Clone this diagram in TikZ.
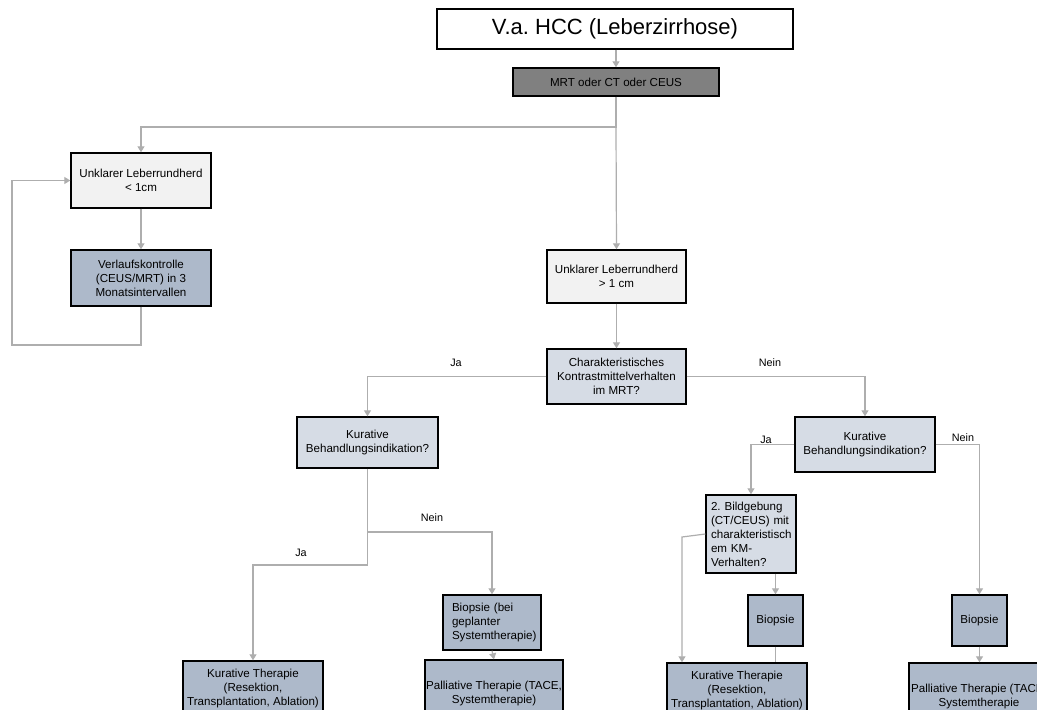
\documentclass[tikz,border=0pt]{standalone}
\usepackage{fontspec}
\setmainfont{Liberation Sans}
\usetikzlibrary{arrows.meta}
\frenchspacing
\definecolor{cline}{HTML}{AEAEAE}
\definecolor{cdark}{HTML}{808080}
\definecolor{clight}{HTML}{F2F2F2}
\definecolor{cblue}{HTML}{ADB9CA}
\definecolor{cpale}{HTML}{D6DCE5}
\begin{document}
\begin{tikzpicture}[x=1pt,y=-1pt,
  box/.style={draw=black, line width=1.4pt, inner sep=0pt, align=center,
    font=\fontsize{11.6}{14}\selectfont},
  lbox/.style={box, align=left},
  conn/.style={draw=cline, line width=1.2pt},
  arr/.style={conn, -{Triangle[width=7pt,length=6pt]}},
  lab/.style={font=\fontsize{10.8}{13}\selectfont, inner sep=0pt}]
\useasboundingbox (0,0) rectangle (1037,710);
\clip (0,0) rectangle (1037,710);
\fill[white] (0,0) rectangle (1037,710);

% nodes
\node[box, fill=white, minimum width=356pt, minimum height=40pt,
  font=\fontsize{22}{26}\selectfont] (top) at (615,29) {V.a. HCC (Leberzirrhose)};
\node[box, fill=cdark, minimum width=206pt, minimum height=28pt] (mrt) at (616,82) {MRT oder CT oder CEUS};
\node[box, fill=clight, minimum width=140pt, minimum height=55pt] (small) at (141,180.5) {Unklarer Leberrundherd\\< 1cm};
\node[box, fill=cblue, minimum width=140pt, minimum height=56pt] (verlauf) at (141,278) {Verlaufskontrolle\\(CEUS/MRT) in 3\\Monatsintervallen};
\node[box, fill=clight, minimum width=139pt, minimum height=53pt] (big) at (616.5,276.5) {Unklarer Leberrundherd\\> 1 cm};
\node[box, fill=cpale, minimum width=139pt, minimum height=55pt] (char) at (616.5,376.5) {Charakteristisches\\Kontrastmittelverhalten\\im MRT?};
\node[box, fill=cpale, minimum width=141pt, minimum height=51pt] (kurL) at (367.5,442.5) {Kurative\\Behandlungsindikation?};
\node[box, fill=cpale, minimum width=140pt, minimum height=55pt] (kurR) at (865,444.5) {Kurative\\Behandlungsindikation?};
\node[lbox, fill=cpale, text width=80pt, inner xsep=5pt, minimum height=78pt] (bild) at (751,534) {2. Bildgebung\\(CT/CEUS) mit\\charakteristisch\\em KM-\\Verhalten?};
\node[lbox, fill=cblue, text width=80pt, inner xsep=9pt, minimum height=55pt] (biopL) at (492,622.5) {Biopsie (bei\\geplanter\\Systemtherapie)};
\node[box, fill=cblue, minimum width=55pt, minimum height=51pt] (biopM) at (775.5,620.5) {Biopsie};
\node[box, fill=cblue, minimum width=55pt, minimum height=51pt] (biopR) at (979.5,620.5) {Biopsie};
\node[box, fill=cblue, minimum width=140pt, minimum height=55pt] (ktL) at (253,688.5) {Kurative Therapie\\(Resektion,\\Transplantation, Ablation)};
\node[box, fill=cblue, minimum width=138pt, minimum height=67pt] (palL) at (494,693.5) {Palliative Therapie (TACE,\\Systemtherapie)};
\node[box, fill=cblue, minimum width=140pt, minimum height=55pt] (ktR) at (737,690.5) {Kurative Therapie\\(Resektion,\\Transplantation, Ablation)};
\node[box, fill=cblue, minimum width=140pt, minimum height=67pt] (palR) at (979,696.5) {Palliative Therapie (TACE,\\Systemtherapie};

% helper coordinates
\coordinate (j1) at (616,127);
\coordinate (l1) at (141,345);
\coordinate (l2) at (12,345);
\coordinate (l3) at (12,180.5);
\coordinate (jja) at (367.5,565);
\coordinate (jn) at (367.5,532);
\coordinate (kx) at (682,537);

% connectors
\draw[arr] (top.south -| mrt.north) -- (mrt.north);
\draw[arr] (mrt.south) -- (j1) -| (small.north);
\draw[arr] (j1) -- (big.north);
\draw[arr] (small.south) -- (verlauf.north);
\draw[arr] (verlauf.south) -- (l1) -- (l2) -- (l3) -- (small.west);
\draw[arr] (big.south) -- (char.north);
\draw[arr] (char.west) -| (kurL.north);
\draw[arr] (char.east) -| (kurR.north);
\draw[arr] (kurL.south) -- (jja) -| (ktL.north);
\draw[arr] (jn) -| (biopL.north);
\draw[arr] (biopL.south) -- (palL.north);
\draw[arr] (kurR.west) -| (bild.north);
\draw[arr] (kurR.east) -| (biopR.north);
\draw[arr] (bild.west) -- (kx) -- (kx |- ktR.north);
\draw[arr] (biopM.north |- bild.south) -- (biopM.north);
\draw[conn] (biopM.south) -- (biopM.south |- ktR.north);
\draw[arr] (biopR.south) -- (biopR.south |- palR.north);

% labels
\node[lab] (la1) at (456,363) {Ja};
\node[lab] (la2) at (770,363) {Nein};
\node[lab] (la3) at (301,553) {Ja};
\node[lab] (la4) at (432,518) {Nein};
\node[lab] (la5) at (766,440) {Ja};
\node[lab] (la6) at (963,438) {Nein};
\end{tikzpicture}
\end{document}
